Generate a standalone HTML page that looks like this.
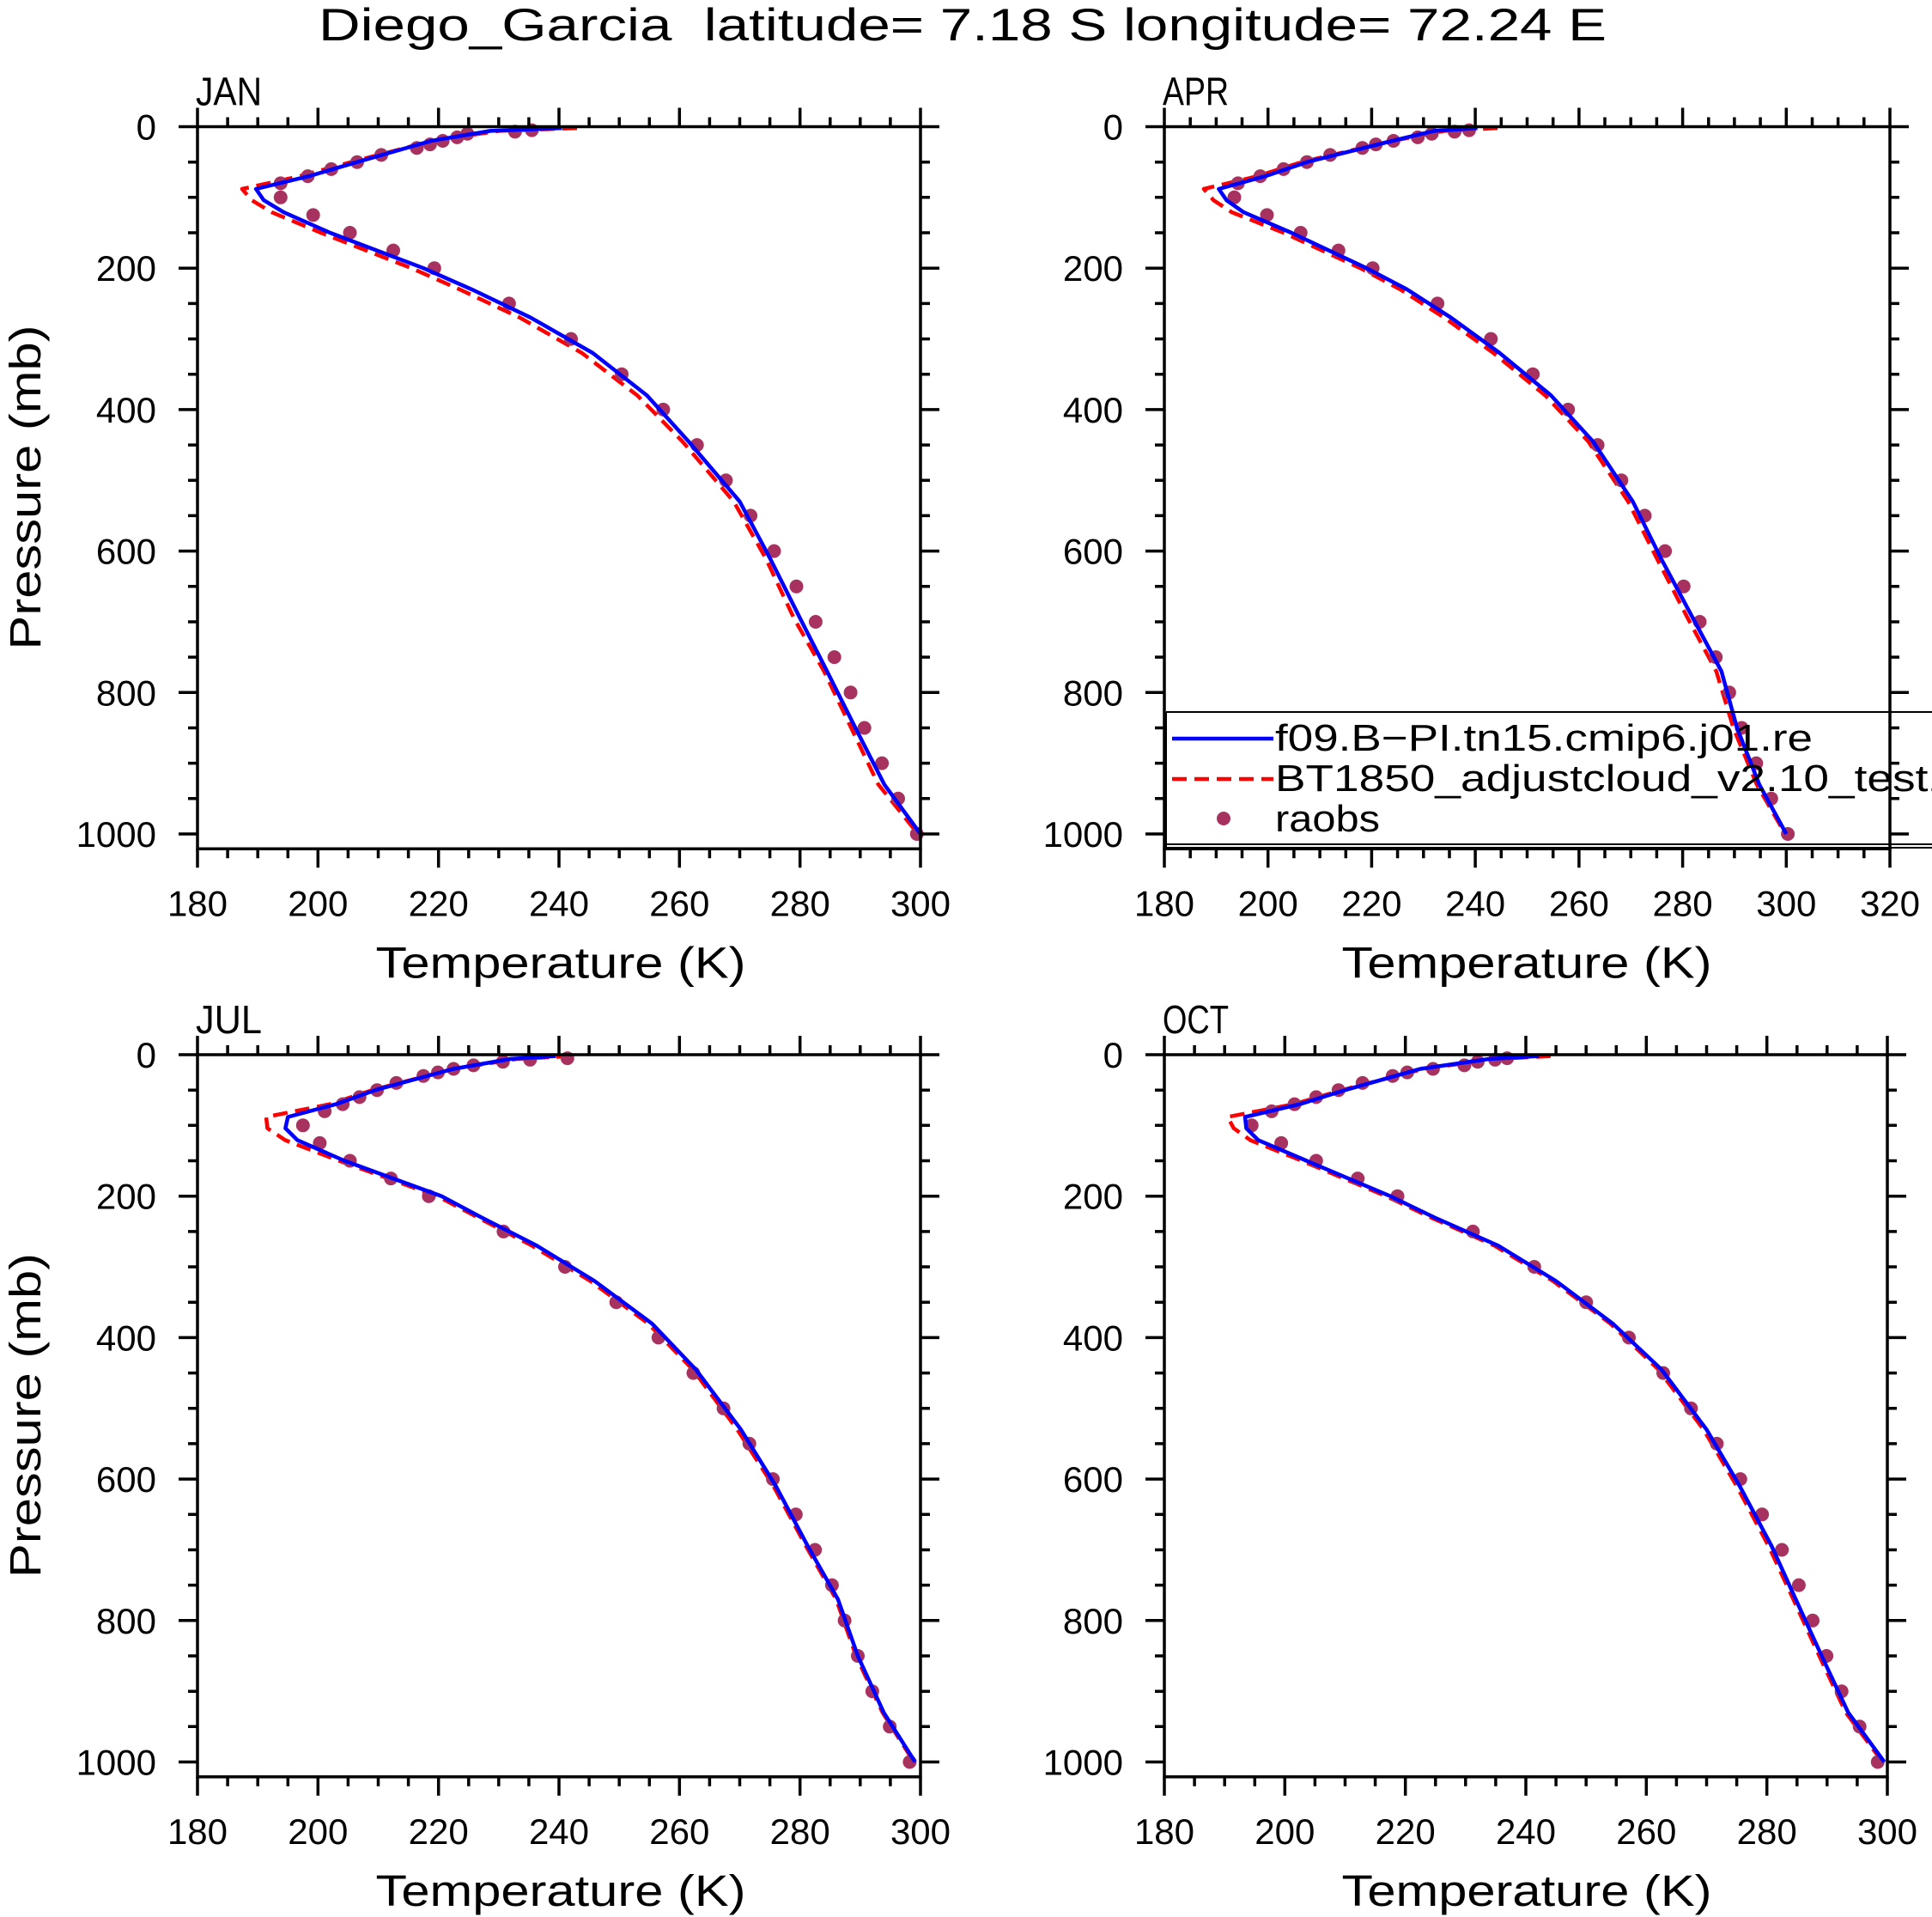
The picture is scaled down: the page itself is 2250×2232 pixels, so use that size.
<!DOCTYPE html>
<html><head><meta charset="utf-8"><style>
html,body{margin:0;padding:0;background:#fff;}
svg{display:block;font-family:"Liberation Sans",sans-serif;}
</style></head><body>
<svg id="chart" xmlns="http://www.w3.org/2000/svg" width="2250" height="2232" viewBox="0 0 2250 2232">
<rect width="2250" height="2232" fill="#fff"/>
<text x="1121" y="47" font-size="53" text-anchor="middle" textLength="1500" lengthAdjust="spacingAndGlyphs" style="white-space:pre">Diego_Garcia  latitude= 7.18 S longitude= 72.24 E</text>
<g id="panels"></g>
</svg>
<script>
// ---- data ----
const modelLevels = [2,6,20,50,70,88,104,121,150,200,230,270,320,380,445,530,610,695,770,850,930,1000];
const obsLevels = [5,7,10,15,20,25,30,40,50,60,70,80,100,125,150,175,200,250,300,350,400,450,500,550,600,650,700,750,800,850,900,950,1000];
const months = ["JAN","APR","JUL","OCT"];
const xMaxByMonth = [300,320,300,300];
const xTicksSmall = [180,200,220,240,260,280,300];
const xTicksWide = [180,200,220,240,260,280,300,320];
const yTicks = [0,200,400,600,800,1000];

const blueJAN = [240.5,228.6,218.8,206.5,198.5,189.7,191.0,194.3,202,217.5,225.5,235.3,245.6,254.6,261.5,270,275,280,284.5,289.2,294,300];
const redJAN  = [243,230,219,205.5,197,187.4,189,192.3,200.5,215.5,223.5,233.5,243.8,253,260.5,269,274.3,279,284,288.5,293,299.6];
const obsJAN  = [235.5,232.7,224.8,223.1,220.7,218.6,216.4,210.5,206.5,202.2,198.3,193.8,193.8,199.2,205.3,212.5,219.3,231.7,242.0,250.4,257.3,262.9,267.7,271.8,275.7,279.4,282.6,285.7,288.4,290.7,293.6,296.3,299.4];

const blueAPR = [240.4,232,224,207.5,199.5,190.5,192,195.3,204.5,219,226.8,235.3,244.7,254.6,262.7,270.4,275.8,282,287.5,290.5,294.8,300];
const redAPR  = [244.3,234,224,206.5,198,187.6,189.5,193,203,217.8,225.5,234,243.5,253.5,261.8,269.5,275,281,286.5,289.8,294.3,299.8];
const obsAPR  = [238.8,236,231.6,228.9,224.2,220.8,218.2,212,207.5,203,198.5,194.2,193.5,199.8,206.3,213.6,220.2,232.7,243,251.1,257.9,263.6,268.2,272.7,276.6,280.2,283.3,286.4,289,291.4,294.2,297.1,300.3];

const blueJUL = [239.5,232,222.5,209.5,203,195,194.6,196.6,204.4,220.5,227.1,236.3,245.9,255.4,262.7,270.2,276,281.3,286.3,289.6,293.9,299.1];
const redJUL  = [242,233,222.5,209,202,191.4,191.6,194.6,203.5,219.8,226.5,235.5,245.2,254.8,262.2,269.6,275.6,281,286,289.3,293.7,298.9];
const obsJUL  = [241.4,235.2,230.7,225.8,222.5,219.9,217.5,213,209.8,206.9,204.1,201.1,197.5,200.3,205.3,212.1,218.4,230.8,241,249.5,256.5,262.3,267.3,271.6,275.5,279.3,282.5,285.3,287.4,289.6,292,294.9,298.2];

const blueOCT = [242.2,234,222.5,210,202.5,193.4,193.6,195.6,203.6,217.5,224.8,235.4,245,254.4,262.5,270,275.5,280.8,284.8,289.1,293.5,299.5];
const redOCT  = [244.1,235,223,209.5,201.5,190.5,191.5,194.3,202.8,216.8,224.2,234.8,244.5,254,262,269.5,275,280.3,284.4,288.7,293.1,299.2];
const obsOCT  = [236.9,234.9,232,229.8,224.6,220.3,217.9,212.9,208.9,205.2,201.6,197.8,194.5,199.4,205.2,212.1,218.7,231.2,241.4,250,257.1,262.8,267.4,271.7,275.6,279.2,282.5,285.3,287.6,289.9,292.4,295.4,298.4];

const blueSeries = [blueJAN,blueAPR,blueJUL,blueOCT];
const redSeries = [redJAN,redAPR,redJUL,redOCT];
const obsSeries = [obsJAN,obsAPR,obsJUL,obsOCT];

// ---- layout ----
const NS = "http://www.w3.org/2000/svg";
const root = document.getElementById('panels');
const panelLeft = [230,1356,230,1356];
const panelRight = [1072,2201,1072,2198];
const panelTop = [147.5,147.5,1228,1228];
const pxPerMb = 0.8235;
const pBottom = 1021;

function mk(tag, attrs, parent){
  const e = document.createElementNS(NS, tag);
  for (const k in attrs) e.setAttribute(k, attrs[k]);
  parent.appendChild(e);
  return e;
}

months.forEach((m, i) => {
  const g = mk('g', {}, root);
  
  
  const x0 = panelLeft[i], x1 = panelRight[i], xmax = xMaxByMonth[i];
  const X = t => x0 + (t - 180) * (x1 - x0) / (xmax - 180);
  const Y = p => panelTop[i] + p * pxPerMb;
  const yb = Y(pBottom), yt = Y(0);

  const mkPath = arr => modelLevels.map((p, k) => (k ? 'L' : 'M') + X(arr[k]).toFixed(1) + ' ' + Y(p).toFixed(1)).join(' ');
  const red = mk('path', {d: mkPath(redSeries[i]), fill: 'none', stroke: '#ff0000', 'stroke-width': 4.5, 'stroke-dasharray': '17 9', 'stroke-linejoin': 'round'}, g);
  
  
  const obs = obsSeries[i];
  obsLevels.forEach((p, k) => {
    const c = mk('circle', {cx: X(obs[k]).toFixed(1), cy: Y(p).toFixed(1), r: 8, fill: '#a8325f'}, g);
    
    
  });
  const blue = mk('path', {d: mkPath(blueSeries[i]), fill: 'none', stroke: '#0000ff', 'stroke-width': 4.5, 'stroke-linejoin': 'round'}, g);
  
  

  const fr = mk('rect', {x: x0, y: yt, width: x1 - x0, height: yb - yt, fill: 'none', stroke: '#000', 'stroke-width': 3.5}, g);
  
  

  let tk = '';
  for (let t = 180; t <= xmax; t += 5) {
    const L = (t % 20 === 0) ? 22 : 11;
    const x = X(t).toFixed(1);
    tk += `M${x} ${yt}V${yt - L}M${x} ${yb}V${yb + L}`;
  }
  for (let p = 0; p <= 1000; p += 50) {
    const L = (p % 200 === 0) ? 22 : 11;
    const y = Y(p).toFixed(1);
    tk += `M${x0} ${y}H${x0 - L}M${x1} ${y}H${x1 + L}`;
  }
  const ticks = mk('path', {d: tk, stroke: '#000', 'stroke-width': 3.5, fill: 'none'}, g);
  
  

  const xt = (xmax === 320) ? xTicksWide : xTicksSmall;
  xt.forEach(t => {
    const tx = mk('text', {x: X(t), y: yb + 78, 'font-size': 42, 'text-anchor': 'middle'}, g);
    tx.textContent = t;
    
    
  });
  yTicks.forEach(p => {
    const tx = mk('text', {x: x0 - 48, y: Y(p) + 15, 'font-size': 42, 'text-anchor': 'end'}, g);
    tx.textContent = p;
    
    
  });

  const lab = mk('text', {x: x0 - 2, y: yt - 25, 'font-size': 46, textLength: 77, lengthAdjust: 'spacingAndGlyphs'}, g);
  lab.textContent = m;
  
  

  const xtitle = mk('text', {x: (i % 2 ? 1778 : 653), y: yb + 150, 'font-size': 51, 'text-anchor': 'middle', textLength: 431, lengthAdjust: 'spacingAndGlyphs'}, g);
  xtitle.textContent = 'Temperature (K)';
  
  

  if (i % 2 === 0) {
    const yc = Y(510);
    const ytl = mk('text', {x: 0, y: 0, 'font-size': 51, 'text-anchor': 'middle', textLength: 378, lengthAdjust: 'spacingAndGlyphs', transform: `translate(47 ${yc}) rotate(-90)`}, g);
    ytl.textContent = 'Pressure (mb)';
    
    
  }

  if (m === 'APR') {
    const lg = mk('g', {}, g);
    
    
    mk('path', {d: 'M1358 829H2250M1358 983H2250M1358 987H2250M1358 829V987', stroke: '#000', 'stroke-width': 2, fill: 'none'}, lg);
    mk('line', {x1: 1365, y1: 860, x2: 1483, y2: 860, stroke: '#0000ff', 'stroke-width': 4.5}, lg);
    mk('line', {x1: 1365, y1: 907, x2: 1483, y2: 907, stroke: '#ff0000', 'stroke-width': 4.5, 'stroke-dasharray': '17 9'}, lg);
    mk('circle', {cx: 1425, cy: 953, r: 8, fill: '#a8325f'}, lg);
    const t1 = mk('text', {x: 1485, y: 874, 'font-size': 44, textLength: 626, lengthAdjust: 'spacingAndGlyphs'}, lg);
    t1.textContent = 'f09.B\u2212PI.tn15.cmip6.j01.re';
    
    
    const t2 = mk('text', {x: 1485, y: 921, 'font-size': 44, textLength: 790, lengthAdjust: 'spacingAndGlyphs'}, lg);
    t2.textContent = 'BT1850_adjustcloud_v2.10_test1';
    
    
    const t3 = mk('text', {x: 1485, y: 968, 'font-size': 44, textLength: 122, lengthAdjust: 'spacingAndGlyphs'}, lg);
    t3.textContent = 'raobs';
    
    
  }
});
</script>
</body></html>
